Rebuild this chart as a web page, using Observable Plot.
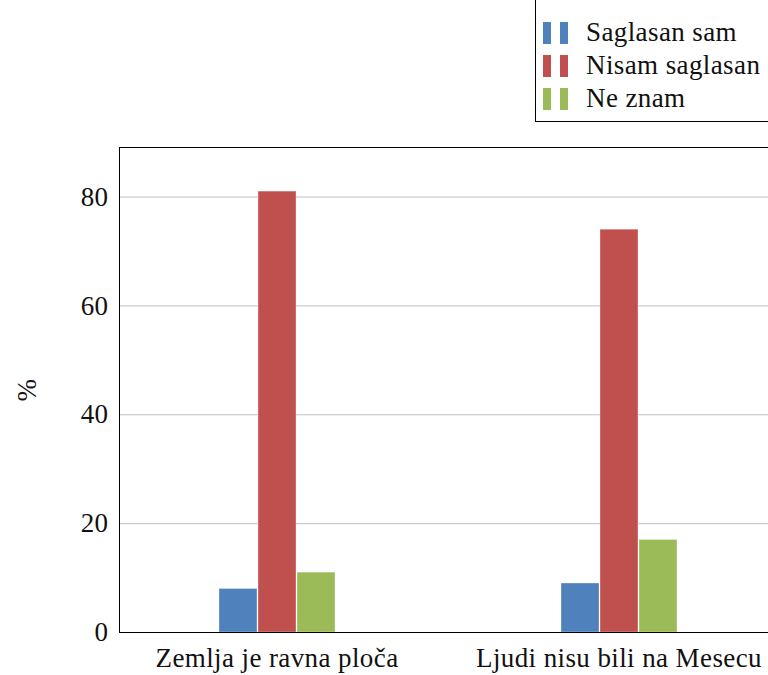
<!DOCTYPE html>
<html>
<head>
<meta charset="utf-8">
<script src="https://cdn.jsdelivr.net/npm/d3@7"></script>
<script src="https://cdn.jsdelivr.net/npm/@observablehq/plot@0.6"></script>
<style>
  html, body { margin: 0; padding: 0; background: #fff; overflow: hidden; width: 768px; height: 675px; }
  #wrap { position: relative; width: 768px; height: 675px; overflow: hidden; }
  #chart { position: absolute; left: 0; top: 0; }
  #chart svg { max-width: none !important; }
  #legend { position: absolute; left: 535px; top: -1px; width: 260px; height: 123px; border: 1px solid #000; background: #fff;
            font-family: "Liberation Serif", "DejaVu Serif", serif; font-size: 27px; letter-spacing: 0.4px; color: #111; box-sizing: border-box; }
  .item { position: absolute; left: 7px; display: flex; align-items: center; line-height: 1; }
  .sw { display: inline-block; width: 8px; height: 22px; margin-right: 9px; }
  .item span.lab { margin-left: 9px; }
</style>
</head>
<body>
<div id="wrap">
  <div id="chart"></div>
  <div id="legend"></div>
</div>
<script>
const categories = ["Zemlja je ravna ploča", "Ljudi nisu bili na Mesecu"];
const series = ["Saglasan sam", "Nisam saglasan", "Ne znam"];
const colors = ["#4F81BD", "#C0504D", "#9BBB59"];
const saglasanSam = [8, 9];
const nisamSaglasan = [81, 74];
const neZnam = [11, 17];
const yTicks = [0, 20, 40, 60, 80];

const values = [saglasanSam, nisamSaglasan, neZnam];
const data = [];
categories.forEach((c, i) => series.forEach((s, j) => data.push({category: c, series: s, value: values[j][i]})));

const font = "Liberation Serif, DejaVu Serif, serif";
const W = 790, mL = 118, mR = 13;

const chart = Plot.plot({
  width: W,
  height: 675,
  marginLeft: mL,
  marginRight: mR,
  marginTop: 147,
  marginBottom: 43,
  style: {fontFamily: font, fontSize: "27px", letterSpacing: "0.4px", color: "#111", background: "transparent", overflow: "visible", maxWidth: "none"},
  fx: {domain: categories, paddingInner: 0.0787, paddingOuter: 0, axis: null},
  x: {domain: series, paddingInner: 0.03, paddingOuter: 2.495, axis: null},
  y: {domain: [0, 89.1], axis: null},
  color: {domain: series, range: colors},
  marks: [
    Plot.axisY({ticks: yTicks.slice(1), tickSize: -(W - mL - mR), text: null, label: null, stroke: "#bfbfbf", strokeOpacity: 1}),
    Plot.axisY({ticks: yTicks, tickSize: 0, tickPadding: 11, label: "%", labelAnchor: "center", labelOffset: 103, labelArrow: "none"}),
    Plot.axisFx({anchor: "bottom", tickSize: 0, tickPadding: 15, label: null}),
    Plot.barY(data, {fx: "category", x: "series", y: "value", fill: "series", stroke: "#ffffff", strokeOpacity: 0.35, strokeWidth: 1}),
    Plot.frame({facet: "super", stroke: "#000", strokeWidth: 1})
  ]
});
chart.style.maxWidth = "none";
document.getElementById("chart").appendChild(chart);

const legend = document.getElementById("legend");
series.forEach((s, i) => {
  const it = document.createElement("div");
  it.className = "item";
  it.style.top = (19 + i * 33) + "px";
  it.innerHTML = `<i class="sw" style="background:${colors[i]}"></i><i class="sw" style="background:${colors[i]}"></i><span class="lab">${s}</span>`;
  legend.appendChild(it);
});
</script>
</body>
</html>
